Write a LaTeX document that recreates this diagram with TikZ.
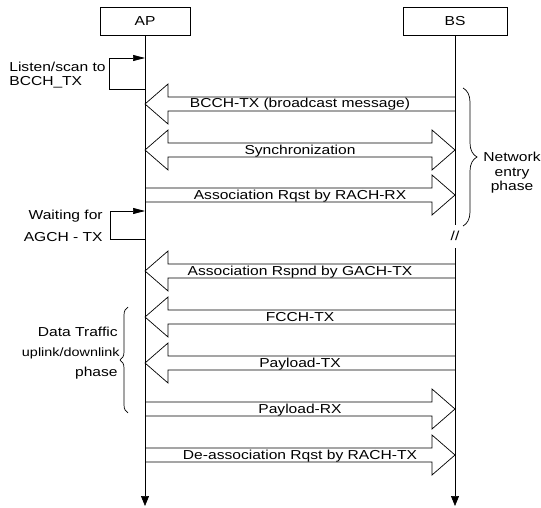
\documentclass[tikz,border=0pt]{standalone}
\usepackage{fontspec}
\setmainfont{Liberation Sans}[FakeStretch=1.2]
\usetikzlibrary{arrows.meta,decorations.pathreplacing}
\newcommand{\blkleft}[2]{%
  \draw[blk] (455,#1-7) -- (168,#1-7) -- (168,#1-20) -- (145,#1) -- (168,#1+20) -- (168,#1+7) -- (455,#1+7);
  \node[lbl] at (300,#1+4) {#2};}
\newcommand{\blkright}[2]{%
  \draw[blk] (145,#1-7) -- (432,#1-7) -- (432,#1-20) -- (455,#1) -- (432,#1+20) -- (432,#1+7) -- (145,#1+7);
  \node[lbl] at (300,#1+4) {#2};}
\newcommand{\blkboth}[2]{%
  \draw[blk] (168,#1-7) -- (432,#1-7) -- (432,#1-20) -- (455,#1) -- (432,#1+20) -- (432,#1+7)
     -- (168,#1+7) -- (168,#1+20) -- (145,#1) -- (168,#1-20) -- cycle;
  \node[lbl] at (300,#1+4) {#2};}
\begin{document}
\begin{tikzpicture}[x=1pt,y=-1pt,
  font=\fontsize{13}{15}\selectfont,
  line width=0.7pt,
  box/.style={draw, minimum height=28pt, inner sep=0pt},
  lifeline/.style={-{Triangle[width=8pt,length=10pt]}},
  loopline/.style={-{Triangle[width=6pt,length=12pt]}},
  blk/.style={draw, line join=miter},
  lbl/.style={anchor=base, inner sep=0pt},
  txt/.style={inner sep=0pt}]
\useasboundingbox (0,0) rectangle (541,508);

% participants
\node[box, minimum width=90pt] (ap) at (145,21) {AP};
\node[box, minimum width=104pt] (bs) at (455,21) {BS};

% lifelines
\coordinate (apend) at (145,506);
\coordinate (bsbreak1) at (455,225);
\coordinate (bsbreak2) at (455,248);
\coordinate (bsend) at (455,506);
\draw[lifeline] (ap.south) -- (apend);
\draw (bs.south) -- (bsbreak1);
\draw[lifeline] (bsbreak2) -- (bsend);
\node[txt] (brk) at (455,236) {//};

% self loops
\coordinate (l1t) at (145,58);
\coordinate (l1b) at (145,89);
\draw[loopline] (l1b) -- (109,89) -- (109,58) -- (l1t);
\node[txt, anchor=base west] (t1a) at (9,71.5) {Listen/scan to};
\node[txt, anchor=base west] (t1b) at (9,85.5) {BCCH\_TX};

\coordinate (l2t) at (145,211);
\coordinate (l2b) at (145,239);
\draw[loopline] (l2b) -- (110,239) -- (110,211) -- (l2t);
\node[txt, anchor=base east] (t2a) at (103,219.5) {Waiting for};
\node[txt, anchor=base east] (t2b) at (103,241.5) {AGCH - TX};

% messages
\blkleft{104}{BCCH-TX (broadcast message)}
\blkboth{150}{Synchronization}
\blkright{195}{Association Rqst by RACH-RX}
\blkleft{271}{Association Rspnd by GACH-TX}
\blkleft{317}{FCCH-TX}
\blkleft{363}{Payload-TX}
\blkright{409}{Payload-RX}
\blkright{455}{De-association Rqst by RACH-TX}

% network entry brace
\coordinate (nb1) at (463,88);
\coordinate (nb2) at (463,226);
\draw[decorate, decoration={brace, amplitude=14pt}] (nb1) -- (nb2);
\node[txt, anchor=base] (ne1) at (512,162) {Network};
\node[txt, anchor=base] (ne2) at (512,176.5) {entry};
\node[txt, anchor=base] (ne3) at (512,190.5) {phase};

% data traffic brace
\coordinate (db1) at (128,413);
\coordinate (db2) at (128,307);
\draw[decorate, decoration={brace, amplitude=8pt}] (db1) -- (db2);
\node[txt, anchor=base east] (dt1) at (118,336.5) {Data Traffic};
\node[txt, anchor=base east, font=\fontsize{12}{14}\selectfont] (dt2) at (120,356.5) {uplink/downlink};
\node[txt, anchor=base east] (dt3) at (118,376.5) {phase};
\end{tikzpicture}
\end{document}
